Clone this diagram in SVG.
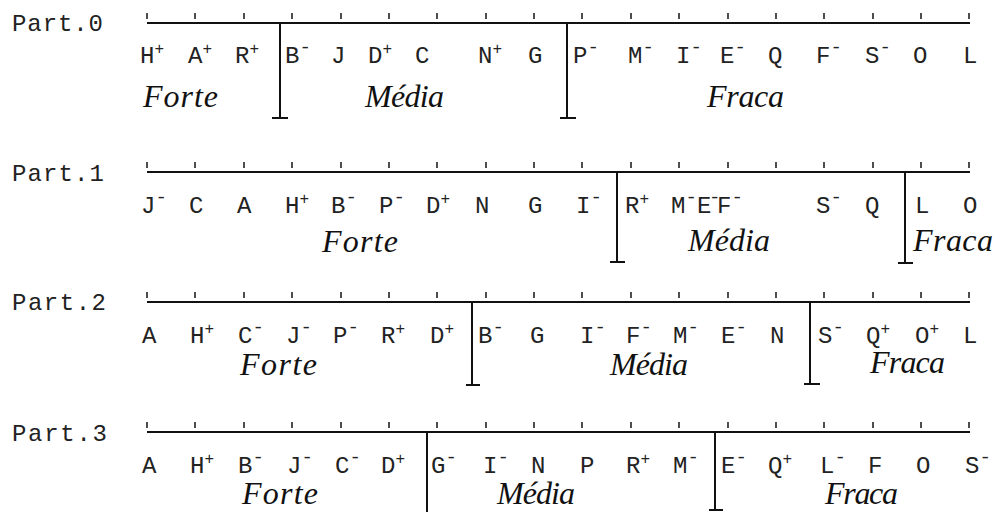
<svg xmlns="http://www.w3.org/2000/svg" xmlns:xlink="http://www.w3.org/1999/xlink" width="1005" height="512" viewBox="0 0 1005 512">
<style>
.ax{stroke:#111;stroke-width:2.2;fill:none}
.dv{stroke:#111;stroke-width:2;fill:none}
.tk{stroke:#222;stroke-width:1.6;fill:none}
.pt{font-family:"Liberation Mono",monospace;font-size:24px;fill:#222}
.lt{font-family:"Liberation Mono",monospace;font-size:24px;fill:#222}
.p{font-size:16px}
.m{font-size:19px}
.cat{font-family:"Liberation Serif",serif;font-style:italic;font-size:32px;fill:#111}
</style>
<defs>
<path id="ticks" class="tk" d="M147 0v6M195 0v6M244 0v6M292 0v6M341 0v6M389 0v6M437 0v6M486 0v6M534 0v6M582 0v6M631 0v6M679 0v6M728 0v6M776 0v6M824 0v6M873 0v6M921 0v6M969 0v6"/>
</defs>
<rect width="1005" height="512" fill="#fff"/>

<g id="part0">
<text class="pt" x="12" y="31" textLength="91">Part.0</text>
<line class="ax" x1="147" y1="23" x2="970" y2="23"/>
<use xlink:href="#ticks" y="13"/>
<path class="dv" d="M280 23V118M272 118H288M567 23V118M560 118H576"/>
<g class="lt">
<text x="140" y="63">H<tspan class="p" dy="-9">+</tspan></text>
<text x="188" y="63">A<tspan class="p" dy="-9">+</tspan></text>
<text x="235" y="63">R<tspan class="p" dy="-9">+</tspan></text>
<text x="285" y="63">B<tspan class="m" dy="-10">-</tspan></text>
<text x="331" y="63">J</text>
<text x="368" y="63">D<tspan class="p" dy="-9">+</tspan></text>
<text x="415" y="63">C</text>
<text x="478" y="63">N<tspan class="p" dy="-9">+</tspan></text>
<text x="528" y="63">G</text>
<text x="573" y="63">P<tspan class="m" dy="-10">-</tspan></text>
<text x="628" y="63">M<tspan class="m" dy="-10">-</tspan></text>
<text x="676" y="63">I<tspan class="m" dy="-10">-</tspan></text>
<text x="720" y="63">E<tspan class="m" dy="-10">-</tspan></text>
<text x="768" y="63">Q</text>
<text x="816" y="63">F<tspan class="m" dy="-10">-</tspan></text>
<text x="865" y="63">S<tspan class="m" dy="-10">-</tspan></text>
<text x="913" y="63">O</text>
<text x="963" y="63">L</text>
</g>
<text class="cat" x="143" y="107" textLength="75">Forte</text>
<text class="cat" x="365" y="107" textLength="79">Média</text>
<text class="cat" x="707" y="107" textLength="77">Fraca</text>
</g>

<g id="part1">
<text class="pt" x="12" y="181" textLength="92">Part.1</text>
<line class="ax" x1="147" y1="172" x2="970" y2="172"/>
<use xlink:href="#ticks" y="162"/>
<path class="dv" d="M617 172V262M610 262H625M905 172V263M898 263H913"/>
<g class="lt">
<text x="141" y="213">J<tspan class="m" dy="-10">-</tspan></text>
<text x="189" y="213">C</text>
<text x="237" y="213">A</text>
<text x="285" y="213">H<tspan class="p" dy="-9">+</tspan></text>
<text x="331" y="213">B<tspan class="m" dy="-10">-</tspan></text>
<text x="379" y="213">P<tspan class="m" dy="-10">-</tspan></text>
<text x="426" y="213">D<tspan class="p" dy="-9">+</tspan></text>
<text x="475" y="213">N</text>
<text x="528" y="213">G</text>
<text x="576" y="213">I<tspan class="m" dy="-10">-</tspan></text>
<text x="625" y="213">R<tspan class="p" dy="-9">+</tspan></text>
<text x="671" y="213">M<tspan class="m" dy="-10">-</tspan></text>
<text x="697" y="213">E</text>
<text class="m" x="709" y="203">-</text>
<text x="717" y="213">F<tspan class="m" dy="-10">-</tspan></text>
<text x="816" y="213">S<tspan class="m" dy="-10">-</tspan></text>
<text x="865" y="213">Q</text>
<text x="915" y="213">L</text>
<text x="963" y="213">O</text>
</g>
<text class="cat" x="322" y="252" textLength="76">Forte</text>
<text class="cat" x="688" y="251" textLength="82">Média</text>
<text class="cat" x="913" y="251" textLength="80">Fraca</text>
</g>

<g id="part2">
<text class="pt" x="12" y="310" textLength="94">Part.2</text>
<line class="ax" x1="147" y1="302" x2="970" y2="302"/>
<use xlink:href="#ticks" y="292"/>
<path class="dv" d="M472 302V385M466 385H480M810 302V384M804 384H820"/>
<g class="lt">
<text x="142" y="343">A</text>
<text x="190" y="343">H<tspan class="p" dy="-9">+</tspan></text>
<text x="238" y="343">C<tspan class="m" dy="-10">-</tspan></text>
<text x="286" y="343">J<tspan class="m" dy="-10">-</tspan></text>
<text x="333" y="343">P<tspan class="m" dy="-10">-</tspan></text>
<text x="381" y="343">R<tspan class="p" dy="-9">+</tspan></text>
<text x="430" y="343">D<tspan class="p" dy="-9">+</tspan></text>
<text x="478" y="343">B<tspan class="m" dy="-10">-</tspan></text>
<text x="530" y="343">G</text>
<text x="580" y="343">I<tspan class="m" dy="-10">-</tspan></text>
<text x="626" y="343">F<tspan class="m" dy="-10">-</tspan></text>
<text x="673" y="343">M<tspan class="m" dy="-10">-</tspan></text>
<text x="721" y="343">E<tspan class="m" dy="-10">-</tspan></text>
<text x="770" y="343">N</text>
<text x="818" y="343">S<tspan class="m" dy="-10">-</tspan></text>
<text x="866" y="343">Q<tspan class="p" dy="-9">+</tspan></text>
<text x="915" y="343">O<tspan class="p" dy="-9">+</tspan></text>
<text x="963" y="343">L</text>
</g>
<text class="cat" x="240" y="375" textLength="77">Forte</text>
<text class="cat" x="610" y="375" textLength="78">Média</text>
<text class="cat" x="870" y="373" textLength="75">Fraca</text>
</g>

<g id="part3">
<text class="pt" x="12" y="441" textLength="95">Part.3</text>
<line class="ax" x1="147" y1="432" x2="970" y2="432"/>
<use xlink:href="#ticks" y="422"/>
<path class="dv" d="M427 432V512M715 432V510M709 510H723"/>
<g class="lt">
<text x="142" y="473">A</text>
<text x="190" y="473">H<tspan class="p" dy="-9">+</tspan></text>
<text x="238" y="473">B<tspan class="m" dy="-10">-</tspan></text>
<text x="287" y="473">J<tspan class="m" dy="-10">-</tspan></text>
<text x="335" y="473">C<tspan class="m" dy="-10">-</tspan></text>
<text x="381" y="473">D<tspan class="p" dy="-9">+</tspan></text>
<text x="431" y="473">G<tspan class="m" dy="-10">-</tspan></text>
<text x="483" y="473">I<tspan class="m" dy="-10">-</tspan></text>
<text x="531" y="473">N</text>
<text x="580" y="473">P</text>
<text x="626" y="473">R<tspan class="p" dy="-9">+</tspan></text>
<text x="673" y="473">M<tspan class="m" dy="-10">-</tspan></text>
<text x="721" y="473">E<tspan class="m" dy="-10">-</tspan></text>
<text x="768" y="473">Q<tspan class="p" dy="-9">+</tspan></text>
<text x="820" y="473">L<tspan class="m" dy="-10">-</tspan></text>
<text x="868" y="473">F</text>
<text x="916" y="473">O</text>
<text x="965" y="473">S<tspan class="m" dy="-10">-</tspan></text>
</g>
<text class="cat" x="242" y="504" textLength="76">Forte</text>
<text class="cat" x="497" y="504" textLength="78">Média</text>
<text class="cat" x="825" y="504" textLength="73">Fraca</text>
</g>
</svg>
